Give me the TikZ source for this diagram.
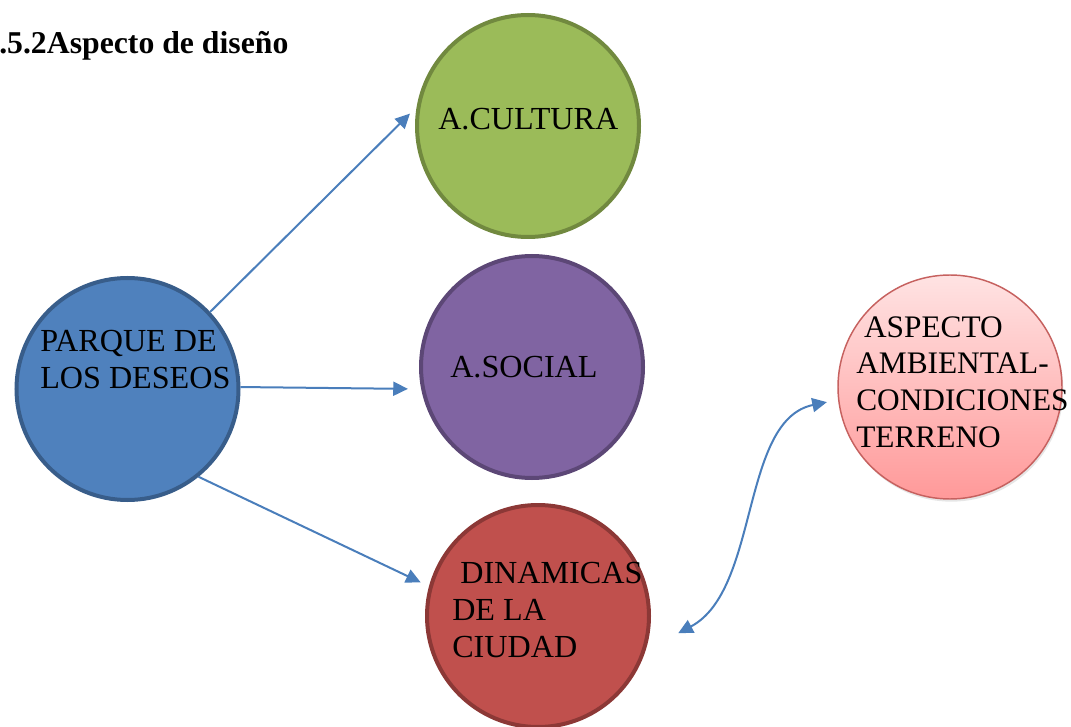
\documentclass[tikz,border=0pt]{standalone}
\usepackage{fontspec}
\setmainfont{Liberation Serif}
\usetikzlibrary{arrows.meta,calc,shadows}
\definecolor{azul}{HTML}{4F81BD}
\definecolor{azulborde}{HTML}{385D8A}
\definecolor{verde}{HTML}{9BBB59}
\definecolor{verdeborde}{HTML}{71893F}
\definecolor{morado}{HTML}{8064A2}
\definecolor{moradoborde}{HTML}{5C4776}
\definecolor{rojo}{HTML}{C0504D}
\definecolor{rojoborde}{HTML}{8C3836}
\definecolor{flecha}{HTML}{4A7EBB}
\begin{document}
\begin{tikzpicture}[x=0.75pt,y=-0.75pt,
        bola/.style={circle,line width=3pt,minimum size=166.5pt,inner sep=0pt},
        texto/.style={anchor=base west,align=left,inner sep=0pt,font=\fontsize{24.1}{27.6}\selectfont},
        conn/.style={flecha,line width=1.5pt,-{Triangle[length=11pt,width=10.5pt]}}]
    \useasboundingbox (0,0) rectangle (1071,727);
    \node[anchor=base west,inner sep=0pt,font=\fontsize{23.8}{28}\selectfont\bfseries] (titulo) at (-1,54) {.5.2Aspecto de diseño};
    % circulos
    \node[bola,fill=azul,draw=azulborde] (parque) at (127.5,389) {};
    \node[bola,fill=verde,draw=verdeborde] (cultura) at (528,126) {};
    \node[bola,fill=morado,draw=moradoborde] (social) at (532,367) {};
    \node[bola,fill=rojo,draw=rojoborde] (dinamicas) at (538,616) {};
    \node[circle,minimum size=168pt,inner sep=0pt,draw=rojo!90!white,line width=1.1pt,top color=red!11,bottom color=red!40,drop shadow={opacity=0.2,shadow xshift=1pt,shadow yshift=-2pt}] (aspecto) at (950,387) {};
    % textos (base = ultima linea)
    \node[texto] (parque-txt) at (40,388) {PARQUE DE\\LOS DESEOS};
    \node[texto] (cultura-txt) at (438,130) {A.CULTURA};
    \node[texto] (social-txt) at (450,378) {A.SOCIAL};
    \node[texto] (dinamicas-txt) at (452,657) {\hspace*{0.25em}DINAMICAS\\DE LA\\CIUDAD};
    \node[texto,font=\fontsize{23.5}{27.5}\selectfont] (aspecto-txt) at (856,447) {\hspace*{0.25em}ASPECTO\\AMBIENTAL-\\CONDICIONES\\TERRENO};
    % flechas
    \draw[conn] (parque.43) -- ($(cultura.center)!1.05!(cultura.174)$);
    \draw[conn] (parque.1) -- ($(social.center)!1.115!(social.190.5)$);
    \draw[conn] (parque.-51) -- ($(dinamicas.center)!1.08!(dinamicas.164)$);
    \draw[conn,{Triangle[length=11pt,width=10.5pt]}-{Triangle[length=11pt,width=10.5pt]}] ($(dinamicas.center)!1.25!(dinamicas.-7.7)$) .. controls (760,590) and (740,420) .. ($(aspecto.center)!1.1!(aspecto.187.4)$);
\end{tikzpicture}
\end{document}
